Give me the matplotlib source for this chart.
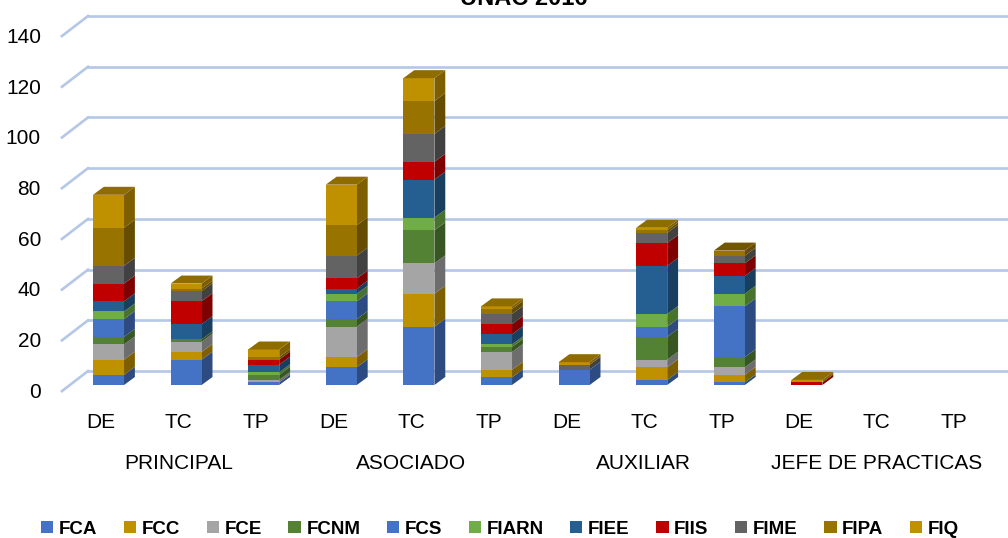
"""
Stacked columns with a fake 3D look, teachers per faculty, category and regime
"""
import matplotlib
matplotlib.use("Agg")
import matplotlib.pyplot as plt
import numpy as np
from matplotlib.colors import to_rgb

plt.rcParams["font.family"] = ["Liberation Sans", "DejaVu Sans"]

WIDTH, HEIGHT = 1008, 538

regimes = ["DE", "TC", "TP"] * 4
groups = ["PRINCIPAL", "ASOCIADO", "AUXILIAR", "JEFE DE PRACTICAS"]
yticks = [0, 20, 40, 60, 80, 100, 120, 140]

FCA = [4, 10, 1, 7, 23, 3, 6, 2, 1, 0, 0, 0]
FCC = [6, 3, 0, 4, 13, 3, 0, 5, 3, 0, 0, 0]
FCE = [6, 4, 1, 12, 12, 7, 0, 3, 3, 0, 0, 0]
FCNM = [3, 1, 2, 3, 13, 2, 0, 9, 4, 0, 0, 0]
FCS = [7, 0, 0, 7, 0, 0, 0, 4, 20, 0, 0, 0]
FIARN = [3, 0, 1, 3, 5, 1, 0, 5, 5, 0, 0, 0]
FIEE = [4, 6, 3, 2, 15, 4, 0, 19, 7, 0, 0, 0]
FIIS = [7, 9, 2, 4, 7, 4, 0, 9, 5, 1, 0, 0]
FIME = [7, 4, 0, 9, 11, 4, 2, 4, 3, 0, 0, 0]
FIPA = [15, 1, 1, 12, 13, 2, 0, 1, 2, 0, 0, 0]
FIQ = [13, 2, 3, 16, 9, 1, 1, 1, 0, 1, 0, 0]

series = [FCA, FCC, FCE, FCNM, FCS, FIARN, FIEE, FIIS, FIME, FIPA, FIQ]
names = ["FCA", "FCC", "FCE", "FCNM", "FCS", "FIARN", "FIEE", "FIIS", "FIME", "FIPA", "FIQ"]
colors = ["#4472C4", "#BF9000", "#A5A5A5", "#548235", "#4472C4", "#70AD47",
          "#255E91", "#C00000", "#636363", "#997300", "#BF9000"]


def shade(color, k):
    return tuple(c * k for c in to_rgb(color))


fig = plt.figure(figsize=(WIDTH / 100, HEIGHT / 100), dpi=100)
ax = fig.add_axes([0, 0, 1, 1])

# one x unit is a column slot, one y unit is one teacher, axes fill the figure
ax.set_xlim(-108.5 / 77.6, (WIDTH - 108.5) / 77.6)
ax.set_ylim((385 - HEIGHT) / 2.536, 385 / 2.536)
ax.axis("off")

grid_color = "#B4C7E7"
for v in yticks:
    ax.plot([-0.6, -0.264], [v - 2.4, v + 5.5], color=grid_color, lw=1.9, zorder=1)
    ax.plot([-0.264, ax.get_xlim()[1]], [v + 5.5, v + 5.5], color=grid_color, lw=1.9, zorder=1)
    ax.text(-0.87, v - 2.9, str(v), ha="right", va="center", fontsize=15)

x = np.arange(len(regimes))
bar_w = 0.4
depth_x, depth_y = 0.14, 3.15
bottom = np.zeros(len(regimes))

for vals, name, col in zip(series, names, colors):
    vals = np.array(vals, dtype=float)
    ax.bar(x, vals, bar_w, bottom=bottom, color=col, label=name, zorder=3)
    for xi, b, v in zip(x, bottom, vals):
        if v == 0:
            continue
        right = xi + bar_w / 2
        ax.fill([right, right + depth_x, right + depth_x, right],
                [b, b + depth_y, b + v + depth_y, b + v],
                color=shade(col, 0.66), lw=0, zorder=2.5)
    bottom += vals

# lid of each column takes the colour of its last segment
for i, total in enumerate(bottom):
    if total == 0:
        continue
    top_col = [c for s, c in zip(series, colors) if s[i] > 0][-1]
    left, right = x[i] - bar_w / 2, x[i] + bar_w / 2
    ax.fill([left, right, right + depth_x, left + depth_x],
            [total, total, total + depth_y, total + depth_y],
            color=shade(top_col, 0.75), lw=0, zorder=3)

for xi, r in zip(x, regimes):
    ax.text(xi - 0.1, -14.6, r, ha="center", va="center", fontsize=15)
for i, g in enumerate(groups):
    ax.text(3 * i + 0.9, -31.0, g, ha="center", va="center", fontsize=15)

# title runs off the top edge in the original too
ax.text(5.35, 152.6, "UNAC 2016", ha="center", va="center", fontsize=17, fontweight="bold")

ax.legend(loc="center", bbox_to_anchor=(500 / WIDTH, 1 - 529 / HEIGHT),
          bbox_transform=fig.transFigure, ncol=len(names), frameon=False,
          prop={"weight": "bold", "size": 13.5}, handlelength=0.65, handleheight=0.65,
          handletextpad=0.3, columnspacing=1.42, borderpad=0, borderaxespad=0)

fig.savefig("out.png", dpi=100)
